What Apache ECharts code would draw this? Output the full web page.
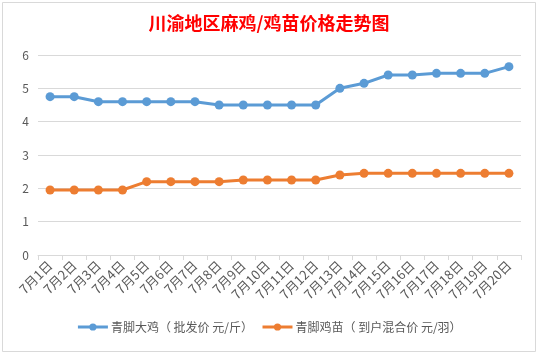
<!DOCTYPE html>
<html><head><meta charset="utf-8">
<script src="https://cdn.jsdelivr.net/npm/echarts@6/dist/echarts.min.js"></script>
<style>html,body{margin:0;padding:0;background:#fff}#c{width:538px;height:355px}</style>
</head><body><div id="c"></div>
<script>
const titleText = '川渝地区麻鸡/鸡苗价格走势图';
const categories = ['7月1日','7月2日','7月3日','7月4日','7月5日','7月6日','7月7日','7月8日','7月9日','7月10日','7月11日','7月12日','7月13日','7月14日','7月15日','7月16日','7月17日','7月18日','7月19日','7月20日'];
const seriesNames = ['青脚大鸡（ 批发价 元/斤）','青脚鸡苗（ 到户混合价 元/羽）'];
const bigChicken = [4.75,4.75,4.6,4.6,4.6,4.6,4.6,4.5,4.5,4.5,4.5,4.5,5.0,5.15,5.4,5.4,5.45,5.45,5.45,5.65];
const chicks = [1.95,1.95,1.95,1.95,2.2,2.2,2.2,2.2,2.25,2.25,2.25,2.25,2.4,2.45,2.45,2.45,2.45,2.45,2.45,2.45];
const yTicks = {min:0, max:6, interval:1};

const chart = echarts.init(document.getElementById('c'));
const font = '"Microsoft YaHei","Noto Sans CJK SC",sans-serif';
chart.setOption({
  animation:false,
  backgroundColor:'#fff',
  graphic:[{type:'rect',shape:{x:2.5,y:2.5,width:533,height:349},style:{fill:'none',stroke:'#d9d9d9',lineWidth:1},silent:true}],
  title:{text:titleText,left:'center',top:9,textStyle:{color:'#ff0000',fontSize:18,fontWeight:'bold',fontFamily:font}},
  legend:{bottom:17,left:'center',itemWidth:30,itemHeight:9,itemGap:8,
    data:seriesNames,
    lineStyle:{width:3},
    textStyle:{color:'#595959',fontSize:12,fontFamily:font,padding:[0,0,0,-2]}},
  grid:{left:38,right:17,top:55,bottom:100},
  xAxis:{type:'category',data:categories,boundaryGap:true,
    axisLine:{lineStyle:{color:'#d9d9d9'}},
    axisTick:{show:true,alignWithLabel:false,length:5,lineStyle:{color:'#d9d9d9'}},
    axisLabel:{rotate:45,interval:0,color:'#595959',fontSize:13,fontFamily:font,margin:8}},
  yAxis:{type:'value',min:yTicks.min,max:yTicks.max,interval:yTicks.interval,
    axisLine:{show:false},axisTick:{show:false},
    splitLine:{lineStyle:{color:'#d9d9d9'}},
    axisLabel:{color:'#595959',fontSize:12,fontFamily:font,margin:9}},
  series:[
    {name:seriesNames[0],type:'line',data:bigChicken,symbol:'circle',symbolSize:9,
     lineStyle:{width:3,color:'#5b9bd5'},itemStyle:{color:'#5b9bd5'}},
    {name:seriesNames[1],type:'line',data:chicks,symbol:'circle',symbolSize:9,
     lineStyle:{width:3,color:'#ed7d31'},itemStyle:{color:'#ed7d31'}}
  ]
});
</script></body></html>
